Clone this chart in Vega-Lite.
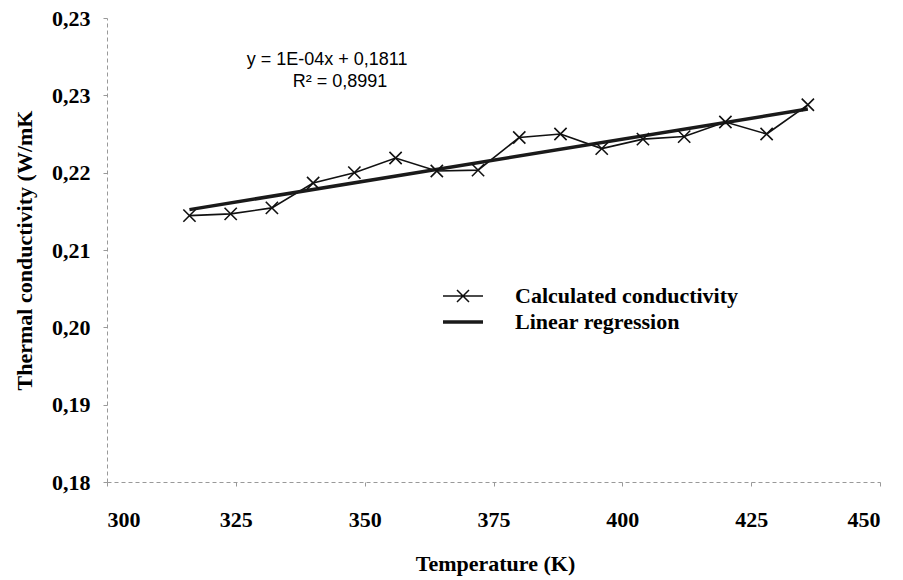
{
  "$schema": "https://vega.github.io/schema/vega-lite/v6.json",
  "width": 773,
  "height": 464,
  "autosize": {"type": "none"},
  "padding": {"left": 107, "top": 18, "right": 23, "bottom": 98},
  "background": "white",
  "config": {
    "view": {"stroke": null},
    "axis": {
      "labelFont": "Liberation Serif",
      "labelFontWeight": "bold",
      "labelFontSize": 22,
      "labelColor": "#000",
      "titleFont": "Liberation Serif",
      "titleFontWeight": "bold",
      "titleFontSize": 22,
      "titleColor": "#000",
      "domainColor": "#999",
      "domainDash": [4, 3],
      "domainWidth": 1,
      "tickColor": "#999",
      "tickSize": 4,
      "grid": false
    }
  },
  "datasets": {
    "main": [
      {"T": 316, "k": 0.2110, "series": "Calculated conductivity"},
      {"T": 324, "k": 0.2112, "series": "Calculated conductivity"},
      {"T": 332, "k": 0.2119, "series": "Calculated conductivity"},
      {"T": 340, "k": 0.2148, "series": "Calculated conductivity"},
      {"T": 348, "k": 0.2160, "series": "Calculated conductivity"},
      {"T": 356, "k": 0.2177, "series": "Calculated conductivity"},
      {"T": 364, "k": 0.2162, "series": "Calculated conductivity"},
      {"T": 372, "k": 0.2163, "series": "Calculated conductivity"},
      {"T": 380, "k": 0.2201, "series": "Calculated conductivity"},
      {"T": 388, "k": 0.2205, "series": "Calculated conductivity"},
      {"T": 396, "k": 0.2188, "series": "Calculated conductivity"},
      {"T": 404, "k": 0.2199, "series": "Calculated conductivity"},
      {"T": 412, "k": 0.2202, "series": "Calculated conductivity"},
      {"T": 420, "k": 0.2219, "series": "Calculated conductivity"},
      {"T": 428, "k": 0.2205, "series": "Calculated conductivity"},
      {"T": 436, "k": 0.2239, "series": "Calculated conductivity"},
      {"T": 316, "k": 0.2117, "series": "Linear regression"},
      {"T": 436, "k": 0.2234, "series": "Linear regression"}
    ],
    "notes": [
      {"T": 342.7, "k": 0.2291, "label": "y = 1E-04x + 0,1811"},
      {"T": 345.2, "k": 0.2266, "label": "R² = 0,8991"}
    ]
  },
  "encoding": {
    "x": {
      "field": "T", "type": "quantitative",
      "scale": {"domain": [300, 450], "nice": false, "zero": false},
      "axis": {
        "title": "Temperature (K)",
        "values": [300, 325, 350, 375, 400, 425, 450],
        "labelPadding": 23,
        "titleX": 388, "titleY": 81, "titleAnchor": null,
        "titleAlign": "center", "titleBaseline": "middle"
      }
    },
    "y": {
      "field": "k", "type": "quantitative",
      "scale": {"domain": [0.18, 0.234], "nice": false, "zero": false},
      "axis": {
        "title": "Thermal conductivity (W/mK",
        "values": [0.18, 0.189, 0.198, 0.207, 0.216, 0.225, 0.234],
        "labelExpr": "replace(format(datum.value + 0.000000001, '.2f'), '.', ',')",
        "labelPadding": 13,
        "titleX": -83, "titleY": 232, "titleAngle": -90,
        "titleAlign": "center", "titleBaseline": "middle"
      }
    }
  },
  "layer": [
    {
      "data": {"name": "main"},
      "transform": [{"filter": "datum.series === 'Calculated conductivity'"}],
      "mark": {"type": "line", "strokeWidth": 1.6},
      "encoding": {
        "color": {
          "field": "series", "type": "nominal",
          "scale": {"domain": ["Calculated conductivity", "Linear regression"], "range": ["#111111", "#1a1a1a"]},
          "legend": {
            "title": null,
            "orient": "none",
            "legendX": 345,
            "legendY": 267,
            "padding": 0,
            "symbolSize": 400,
            "labelOffset": 41,
            "rowPadding": 4,
            "labelFont": "Liberation Serif",
            "labelFontWeight": "bold",
            "labelFontSize": 22,
            "labelColor": "#000",
            "labelLimit": 400,
            "encode": {
              "symbols": {
                "update": {
                  "shape": {"signal": "datum.value === 'Linear regression' ? 'M-2,0H2' : 'M-2,0H2M-0.6,-0.6L0.6,0.6M-0.6,0.6L0.6,-0.6'"},
                  "strokeWidth": {"signal": "datum.value === 'Linear regression' ? 3.5 : 1.5"},
                  "stroke": {"value": "#111111"},
                  "fill": {"value": "transparent"}
                }
              }
            }
          }
        }
      }
    },
    {
      "data": {"name": "main"},
      "transform": [{"filter": "datum.series === 'Linear regression'"}],
      "mark": {"type": "line", "strokeWidth": 3.5},
      "encoding": {
        "color": {"field": "series", "type": "nominal"}
      }
    },
    {
      "data": {"name": "main"},
      "transform": [{"filter": "datum.series === 'Calculated conductivity'"}],
      "mark": {"type": "point", "shape": "M-1,-1L1,1M-1,1L1,-1", "filled": false, "size": 150, "strokeWidth": 1.6, "color": "#111111", "opacity": 1}
    },
    {
      "data": {"name": "notes"},
      "mark": {"type": "text", "font": "Liberation Sans", "fontSize": 18, "fontWeight": "normal", "color": "#000", "align": "center", "baseline": "middle"},
      "encoding": {
        "text": {"field": "label", "type": "nominal"}
      }
    }
  ]
}
